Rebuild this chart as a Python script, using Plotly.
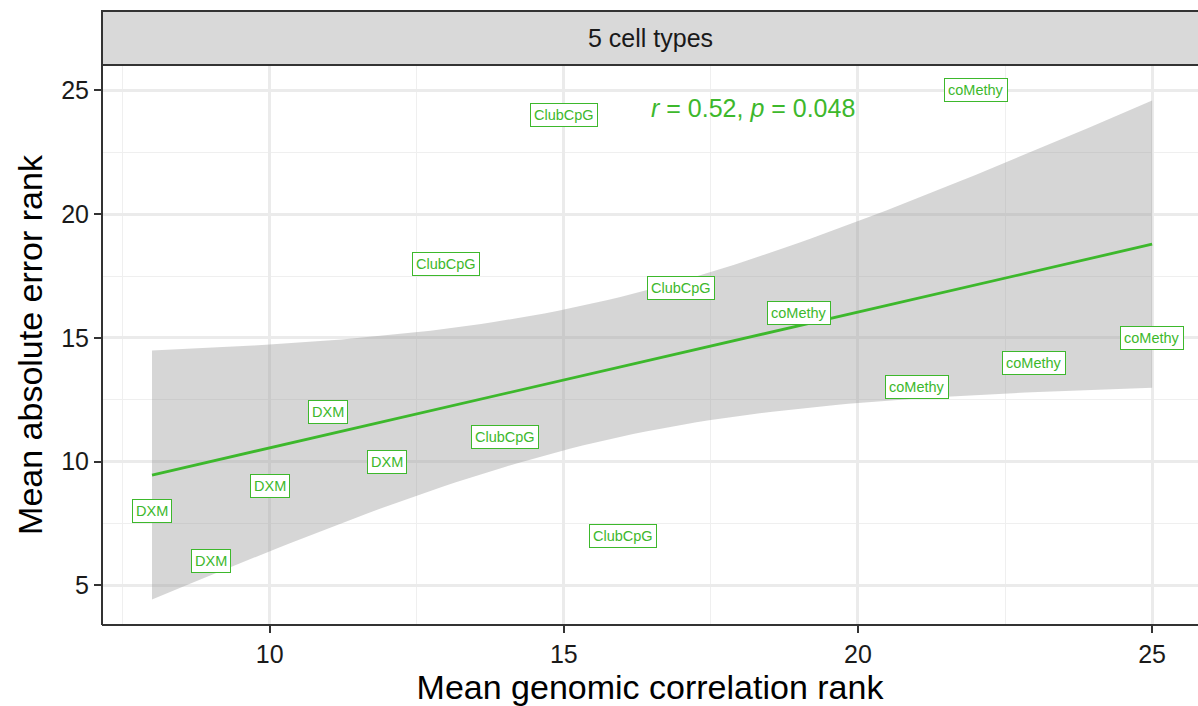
import numpy as np
import plotly.graph_objects as go

# Method ranks across runs
methods = ["DXM", "DXM", "DXM", "DXM", "DXM",
           "ClubCpG", "ClubCpG", "ClubCpG", "ClubCpG", "ClubCpG",
           "coMethy", "coMethy", "coMethy", "coMethy", "coMethy"]
corr_rank = [8, 9, 10, 11, 12, 13, 14, 15, 16, 17, 19, 21, 22, 23, 25]
mae_rank = [8, 6, 9, 12, 10, 18, 11, 24, 7, 17, 16, 13, 25, 14, 15]

facet_title = "5 cell types"
stat_label = "<i>r</i> = 0.52, <i>p</i> = 0.048"
stat_pos = (16.45, 24.3)

x_ticks = [10, 15, 20, 25]
y_ticks = [5, 10, 15, 20, 25]

GREEN = "#3DB82C"
DARK = "#333333"
FONT = "Liberation Sans, Arial, sans-serif"

# Linear fit with 95% confidence band (t quantile, df = n - 2 = 13)
x = np.array(corr_rank, dtype=float)
y = np.array(mae_rank, dtype=float)
n = len(x)
slope, intercept = np.polyfit(x, y, 1)
resid = y - (slope * x + intercept)
s = np.sqrt(np.sum(resid ** 2) / (n - 2))
sxx = np.sum((x - x.mean()) ** 2)
t_crit = 2.160369
xs = np.linspace(x.min(), x.max(), 80)
fit = slope * xs + intercept
se = s * np.sqrt(1.0 / n + (xs - x.mean()) ** 2 / sxx)
lo, hi = fit - t_crit * se, fit + t_crit * se

fig = go.Figure()
fig.add_trace(go.Scatter(
    x=np.concatenate([xs, xs[::-1]]), y=np.concatenate([hi, lo[::-1]]),
    fill="toself", fillcolor="rgba(153,153,153,0.4)",
    line=dict(width=0), mode="lines", hoverinfo="skip", showlegend=False))
fig.add_trace(go.Scatter(
    x=xs, y=fit, mode="lines", line=dict(color=GREEN, width=2.8),
    showlegend=False))

# Boxed labels at each point
for m, xv, yv in zip(methods, corr_rank, mae_rank):
    fig.add_annotation(
        x=xv, y=yv, text=m, showarrow=False,
        font=dict(family=FONT, size=14.5, color=GREEN),
        bgcolor="white", bordercolor=GREEN, borderwidth=1, borderpad=3)

fig.add_annotation(
    x=stat_pos[0], y=stat_pos[1], text=stat_label, showarrow=False,
    xanchor="left", yanchor="middle",
    font=dict(family=FONT, size=25, color=GREEN))

# Facet strip above the panel
strip_top = 1 + (65 - 11) / 560
fig.add_shape(type="rect", xref="paper", yref="paper",
              x0=0, x1=1.01, y0=1, y1=strip_top,
              fillcolor="#D9D9D9", line=dict(color=DARK, width=2), layer="above")
fig.add_annotation(xref="paper", yref="paper", x=0.5, y=(1 + strip_top) / 2,
                   xanchor="center", yanchor="middle",
                   text=facet_title, showarrow=False,
                   font=dict(family=FONT, size=25, color="#1A1A1A"))

# Panel border (left, top, bottom)
for (x0, y0, x1, y1) in [(0, 0, 0, 1), (0, 1, 1.01, 1), (0, 0, 1.01, 0)]:
    fig.add_shape(type="line", xref="paper", yref="paper",
                  x0=x0, y0=y0, x1=x1, y1=y1,
                  line=dict(color=DARK, width=2), layer="above")

axis_common = dict(
    showgrid=True, gridcolor="#EBEBEB", gridwidth=2.5,
    zeroline=False, showline=False,
    ticks="outside", ticklen=7, tickwidth=2, tickcolor=DARK,
    tickfont=dict(family=FONT, size=25, color="#1A1A1A"),
    minor=dict(showgrid=True, gridcolor="#EFEFEF", gridwidth=1.4, dtick=2.5, tick0=0),
)

fig.update_layout(
    width=1198, height=706,
    margin=dict(l=102, r=0, t=65, b=81),
    paper_bgcolor="white", plot_bgcolor="white",
    xaxis=dict(range=[7.15, 25.78], tickvals=x_ticks, **axis_common,
               title=dict(text="Mean genomic correlation rank", standoff=6,
                          font=dict(family=FONT, size=34, color="black"))),
    yaxis=dict(range=[3.40, 26.03], tickvals=y_ticks, **axis_common,
               title=dict(text="Mean absolute error rank", standoff=8,
                          font=dict(family=FONT, size=34, color="black"))),
)

fig.write_html("out.html")
